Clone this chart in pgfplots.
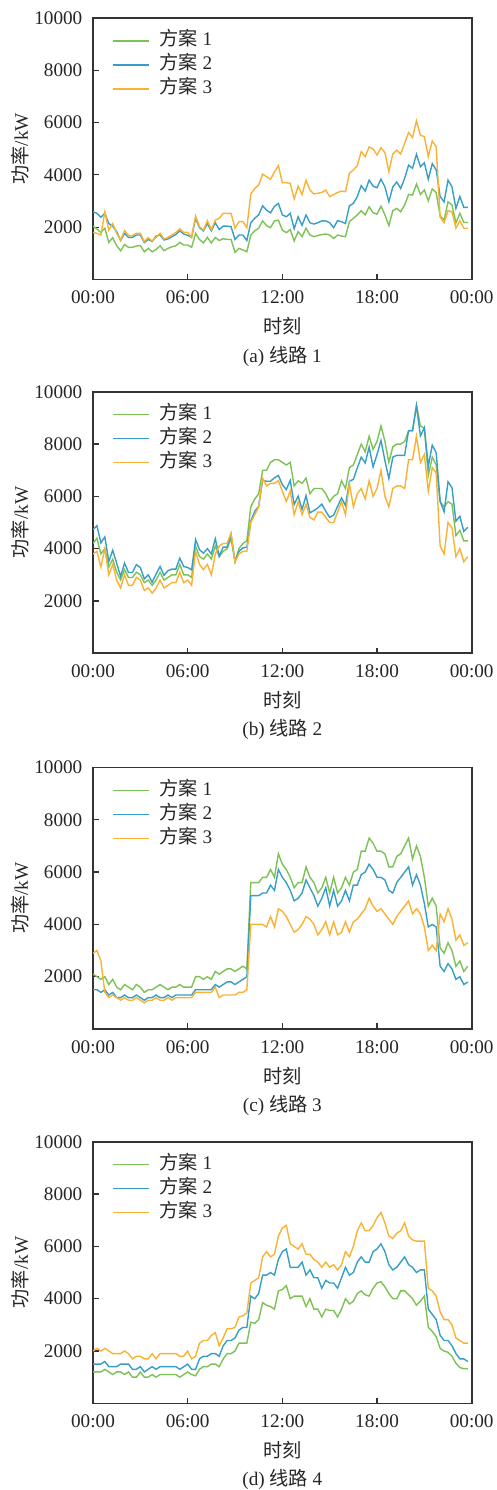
\documentclass[border=0pt]{standalone}
\usepackage{pgfplots}
\usepackage{pgfplotstable}
\pgfplotsset{compat=1.18}
\usepackage{fontspec}
\setmainfont{Liberation Serif}
\newfontfamily\cjk{Noto Sans CJK SC}
\newcommand\fs{\fontsize{9.6}{11.5}\selectfont}
\definecolor{cg}{RGB}{125,194,84}
\definecolor{cb}{RGB}{55,158,198}
\definecolor{co}{RGB}{249,178,52}

\pgfplotstableread{
t g b o
0 2040 2590 1800
0.25 1930 2530 1765
0.5 1800 2380 1700
0.75 1960 2530 2590
1 1420 2140 1890
1.25 1600 2040 2140
1.5 1290 1830 1765
1.75 1100 1490 1510
2 1340 1765 1870
2.25 1230 1610 1680
2.5 1230 1610 1680
2.75 1280 1700 1765
3 1300 1700 1765
3.25 1060 1410 1445
3.5 1190 1530 1600
3.75 1060 1450 1470
4 1150 1660 1610
4.25 1290 1700 1765
4.5 1100 1510 1550
4.75 1190 1550 1610
5 1250 1640 1700
5.25 1290 1720 1800
5.5 1420 1860 1940
5.75 1320 1740 1800
6 1320 1690 1800
6.25 1230 1610 1610
6.5 1760 2340 2430
6.75 1530 1980 2020
7 1400 1860 1890
7.25 1610 2140 2250
7.5 1400 1860 1910
7.75 1610 2170 2270
8 1490 1910 2340
8.25 1560 2040 2530
8.5 1530 2040 2530
8.75 1530 2020 2530
9 1040 1530 1960
9.25 1190 1700 2210
9.5 1130 1700 2210
9.75 1060 1490 1980
10 1700 2170 3270
10.25 1860 2340 3480
10.5 1960 2470 3610
10.75 2240 2820 4030
11 2060 2650 3930
11.25 1980 2550 3830
11.5 2240 2800 4120
11.75 2270 2910 4350
12 1890 2470 3700
12.25 1790 2400 3700
12.5 1910 2530 3680
12.75 1470 1940 3080
13 1830 2400 3570
13.25 1640 2070 3250
13.5 1960 2470 3800
13.75 1700 2170 3420
14 1640 2120 3270
14.25 1680 2170 3300
14.5 1720 2240 3330
14.75 1740 2240 3420
15 1700 2170 3170
15.25 1570 1980 3250
15.5 1700 2250 3330
15.75 1660 2210 3380
16 1640 2140 3360
16.25 2210 2820 4060
16.5 2340 2910 4190
16.75 2470 3170 4350
17 2630 3590 4890
17.25 2470 3380 4700
17.5 2780 3800 5070
17.75 2550 3570 4990
18 2500 3510 4760
18.25 2800 3840 5040
18.5 2470 3540 4850
18.75 2060 2970 4120
19 2630 3540 4800
19.25 2720 3730 4950
19.5 2590 3480 4800
19.75 2850 3870 5210
20 3250 4370 5620
20.25 3230 4250 5430
20.5 3650 4790 6070
20.75 3250 4310 5520
21 3420 4460 5460
21.25 3010 3830 4700
21.5 3460 4430 5300
21.75 3320 4190 5070
22 2430 3170 2380
22.25 2270 2970 2170
22.5 2970 3800 2630
22.75 2850 3540 2590
23 2170 2720 1960
23.25 2530 3170 2250
23.5 2180 2760 1960
23.75 2180 2760 1960
}\dataA

\pgfplotstableread{
t g b o
0 4200 4730 3800
0.25 4400 4880 3900
0.5 3800 4220 3300
0.75 4000 4450 4000
1 3300 3510 3000
1.25 3600 3940 3400
1.5 3100 3450 2800
1.75 2800 2940 2500
2 3200 3450 3000
2.25 2900 3090 2600
2.5 2900 3090 2600
2.75 3100 3390 2900
3 3000 3280 2800
3.25 2700 2850 2400
3.5 2800 3000 2500
3.75 2600 2720 2300
4 2800 3030 2500
4.25 3100 3320 2800
4.5 2800 2980 2500
4.75 2900 3160 2600
5 3000 3220 2700
5.25 3000 3220 2700
5.5 3400 3640 3100
5.75 3000 3320 2700
6 3000 3280 2800
6.25 2900 3190 2600
6.5 4100 4350 3900
6.75 3700 3960 3400
7 3600 3830 3200
7.25 3800 4000 3400
7.5 3600 3800 3000
7.75 4100 4380 3800
8 3700 3710 4100
8.25 3900 4060 4200
8.5 4000 4060 4200
8.75 4400 4540 4600
9 3500 3510 3500
9.25 4000 3900 3800
9.5 4200 4030 3900
9.75 4300 4060 3900
10 5600 5050 5000
10.25 5900 5430 5300
10.5 6100 5620 5600
10.75 7000 6610 6700
11 7000 6580 6400
11.25 7300 6580 6500
11.5 7400 6710 6500
11.75 7400 6800 6600
12 7300 6450 6200
12.25 7200 6260 5800
12.5 7300 6610 6200
12.75 6400 5690 5300
13 6600 6010 5800
13.25 6500 5500 5300
13.5 6700 6030 5700
13.75 6100 5370 5200
14 6300 5460 5100
14.25 6300 5560 5400
14.5 6300 5710 5400
14.75 6100 5430 5200
15 5800 5200 5000
15.25 6000 5280 5000
15.5 6100 5620 5400
15.75 6600 5940 5800
16 6300 5650 5300
16.25 7100 6580 6500
16.5 7200 6650 5600
16.75 7600 7090 6100
17 8000 7500 6300
17.25 7700 7280 5900
17.5 8300 7880 6600
17.75 7800 7130 6000
18 8100 7600 6300
18.25 8700 8140 7000
18.5 8100 7370 6000
18.75 7300 6680 5600
19 7900 7500 6300
19.25 8000 7570 6400
19.5 8000 7570 6400
19.75 8100 7570 6300
20 8500 8520 7400
20.25 8500 8520 7400
20.5 9500 9460 8300
20.75 8700 8310 7300
21 8600 8630 7600
21.25 6800 7160 6200
21.5 7500 7960 7100
21.75 7200 7670 6900
22 5800 5810 4100
22.25 5600 5410 3800
22.5 5800 6560 5000
22.75 5700 6330 4800
23 4500 5050 3700
23.25 4700 5240 4000
23.5 4300 4660 3500
23.75 4300 4820 3700
}\dataB

\pgfplotstableread{
t g b o
0 2100 1500 2900
0.25 2000 1500 3000
0.5 1900 1400 2600
0.75 2000 1500 1400
1 1700 1300 1200
1.25 1900 1400 1300
1.5 1600 1200 1200
1.75 1500 1200 1100
2 1700 1300 1200
2.25 1600 1200 1100
2.5 1500 1200 1100
2.75 1700 1300 1200
3 1600 1200 1100
3.25 1400 1100 1000
3.5 1500 1200 1100
3.75 1500 1200 1100
4 1600 1300 1200
4.25 1700 1200 1100
4.5 1600 1200 1100
4.75 1500 1300 1200
5 1600 1200 1100
5.25 1600 1300 1200
5.5 1700 1300 1200
5.75 1600 1300 1200
6 1600 1300 1200
6.25 1600 1300 1200
6.5 2000 1500 1400
6.75 2000 1500 1400
7 1900 1500 1400
7.25 2000 1500 1400
7.5 1900 1500 1400
7.75 2200 1700 1600
8 2100 1600 1200
8.25 2200 1700 1300
8.5 2300 1800 1300
8.75 2300 1800 1300
9 2200 1700 1300
9.25 2300 1800 1400
9.5 2400 1900 1400
9.75 2300 2000 1500
10 5600 5100 4000
10.25 5600 5100 4000
10.5 5600 5100 4000
10.75 5800 5200 4000
11 5800 5200 3900
11.25 6100 5500 4300
11.5 5800 5300 3900
11.75 6700 6100 4600
12 6300 5800 4500
12.25 6100 5600 4300
12.5 5800 5300 4000
12.75 5400 4900 3700
13 5600 5000 3800
13.25 5600 5200 4000
13.5 6200 5700 4300
13.75 5800 5400 4200
14 5600 5100 4000
14.25 5200 4700 3600
14.5 5400 5000 3800
14.75 5800 5400 4100
15 5200 4700 3600
15.25 5800 5300 4100
15.5 5200 4700 3600
15.75 5400 4900 3700
16 5800 5300 4100
16.25 5500 4900 3700
16.5 6000 5500 4100
16.75 6100 5500 4200
17 6800 5900 4400
17.25 6800 6000 4600
17.5 7300 6300 5000
17.75 7100 6100 4700
18 6800 5800 4500
18.25 6800 5800 4600
18.5 6700 5700 4400
18.75 6200 5300 4200
19 6200 5200 4000
19.25 6600 5600 4300
19.5 6700 5800 4500
19.75 7000 6000 4700
20 7300 6200 4900
20.25 6500 5500 4400
20.5 7000 5900 4600
20.75 6600 5500 4400
21 5800 4800 3900
21.25 4700 3900 3000
21.5 5000 4000 3200
21.75 4700 3900 3000
22 3100 2400 4400
22.25 2900 2200 4100
22.5 3300 2500 4600
22.75 3000 2300 4200
23 2400 1900 3400
23.25 2600 2000 3600
23.5 2200 1700 3200
23.75 2400 1800 3300
}\dataC

\pgfplotstableread{
t g b o
0 1200 1500 2000
0.25 1200 1500 2100
0.5 1200 1500 2000
0.75 1300 1600 2100
1 1200 1400 2000
1.25 1100 1400 1900
1.5 1200 1400 1900
1.75 1200 1500 1900
2 1100 1500 2000
2.25 1200 1500 1900
2.5 1000 1300 1700
2.75 1000 1300 1800
3 1200 1400 1800
3.25 1000 1200 1700
3.5 1000 1300 1700
3.75 1100 1400 1900
4 1000 1300 1700
4.25 1100 1400 1900
4.5 1100 1400 1900
4.75 1100 1400 1900
5 1100 1400 1900
5.25 1100 1400 1900
5.5 1000 1300 1800
5.75 1100 1400 1800
6 1200 1500 2000
6.25 1100 1300 1700
6.5 1050 1300 1800
6.75 1300 1700 2300
7 1400 1800 2400
7.25 1400 1800 2400
7.5 1500 1900 2600
7.75 1500 1900 2700
8 1400 1800 2200
8.25 1700 2200 2500
8.5 1900 2400 2850
8.75 1900 2400 2850
9 2000 2500 2900
9.25 2300 2800 3300
9.5 2300 2900 3350
9.75 2300 2900 3450
10 3100 4100 4600
10.25 3060 4000 4700
10.5 3200 4200 4800
10.75 3850 4900 5600
11 3750 4900 5800
11.25 3700 5000 5600
11.5 3600 4900 5700
11.75 4300 5500 6400
12 4350 5800 6700
12.25 4500 5900 6800
12.5 4000 5200 6100
12.75 4100 5200 6000
13 4100 5200 5900
13.25 4100 5400 6100
13.5 3700 4900 5700
13.75 4000 5100 5700
14 3600 4800 5500
14.25 3600 4800 5400
14.5 3300 4400 5200
14.75 3600 4700 5400
15 3550 4600 5200
15.25 3550 4600 5300
15.5 3300 4400 5100
15.75 3600 4800 5300
16 4000 5200 5800
16.25 3800 4900 5600
16.5 3900 5000 6000
16.75 4200 5400 6600
17 4300 5600 6900
17.25 4150 5400 6600
17.5 4100 5400 6600
17.75 4400 5800 6800
18 4600 5900 7100
18.25 4650 6100 7300
18.5 4450 5800 6900
18.75 4200 5300 6400
19 4000 5100 6300
19.25 4000 5200 6500
19.5 4300 5400 6600
19.75 4300 5600 6900
20 4150 5300 6400
20.25 4000 5200 6250
20.5 3750 5000 6200
20.75 3900 5100 6200
21 4100 5100 6200
21.25 2900 3600 4400
21.5 2750 3400 4300
21.75 2550 3200 4100
22 2100 2600 3500
22.25 2000 2400 3200
22.5 1950 2400 3200
22.75 1800 2200 3000
23 1530 1900 2500
23.25 1370 1700 2400
23.5 1320 1700 2300
23.75 1320 1600 2300
}\dataD

\pgfplotsset{
  panel/.style={
    scale only axis, width=189.35pt, height=130.75pt,
    xmin=0, xmax=24, ymin=0, ymax=10000,
    xtick={0,6,12,18,24},
    xticklabels={00:00,06:00,12:00,18:00,00:00},
    ytick={2000,4000,6000,8000,10000},
    scaled y ticks=false,
    /pgf/number format/assume math mode=true,
    yticklabel style={/pgf/number format/fixed, /pgf/number format/1000 sep={}, xshift=-1.8pt},
    xticklabel style={yshift=-2.3pt},
    tick align=inside, xtick pos=bottom, ytick pos=left,
    major tick length=2.8pt,
    axis line style={black!80, line width=0.8pt},
    tick style={black!80, line width=0.6pt},
    tick label style={font=\fs, text=black!85},
    xlabel={{\cjk 时刻}}, ylabel={{\cjk 功率}/kW},
    every axis x label/.style={at={(rel axis cs:0.5,0)}, anchor=center, yshift=-23.4pt, font=\fs, text=black!85},
    every axis y label/.style={at={(rel axis cs:0,0.5)}, xshift=-36.3pt, anchor=center, rotate=90, font=\fs, text=black!85},
    legend style={draw=none, fill=none, at={(0.05,0.947)}, anchor=north west, inner sep=0pt, outer sep=0pt,
      row sep=3pt, column sep=5pt, font=\fs, text=black!85,
      nodes={inner sep=0pt, text height=7pt, text depth=2pt}},
    legend cell align=left,
    legend image code/.code={\draw[#1] (0pt,0pt) -- (18pt,0pt);},
  },
}

\newcommand{\panel}[4]{%
  \begin{axis}[panel, name=#1, at={(46.5pt,#2)}, anchor=south west]
    \addplot[cg, line width=0.7pt] table[x=t, y=g] {#3};
    \addlegendentry{{\cjk 方案} 1}
    \addplot[cb, line width=0.7pt] table[x=t, y=b] {#3};
    \addlegendentry{{\cjk 方案} 2}
    \addplot[co, line width=0.7pt] table[x=t, y=o] {#3};
    \addlegendentry{{\cjk 方案} 3}
  \end{axis}
  \node[font=\fs, text=black!85, anchor=center] at ([yshift=-38.3pt]#1.south) {#4};
}

\begin{document}
\begin{tikzpicture}
  \useasboundingbox (0,0) rectangle (248.5pt,745pt);
  \panel{pa}{605.25pt}{\dataA}{(a) {\cjk 线路} 1}
  \panel{pb}{418.35pt}{\dataB}{(b) {\cjk 线路} 2}
  \panel{pc}{230.5pt}{\dataC}{(c) {\cjk 线路} 3}
  \panel{pd}{43.35pt}{\dataD}{(d) {\cjk 线路} 4}
\end{tikzpicture}
\end{document}
